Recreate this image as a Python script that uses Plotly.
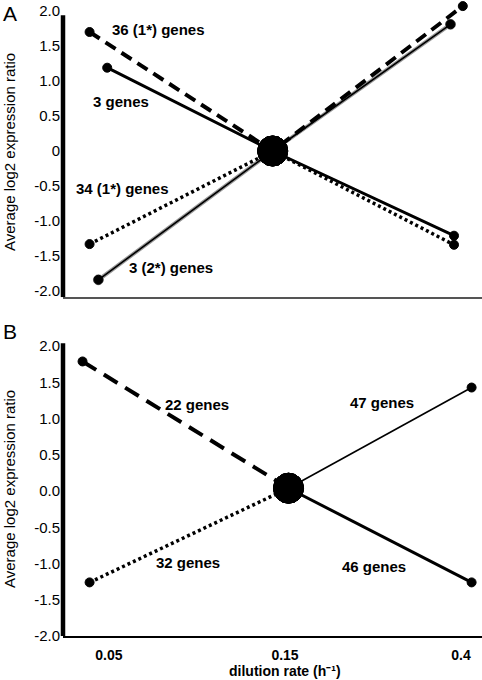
import plotly.graph_objects as go

# ---------------- data ----------------
# x positions are on an ordinal dilution-rate scale (0 -> 0.05, 1 -> 0.15, 2 -> 0.4)
x_ticks = [0, 1, 2]
x_tick_labels = ["0.05", "0.15", "0.4"]

# Panel A
a_dash_x = [-0.11, 0.93, 2.01]
a_dash_y = [1.70, 0.0, 2.07]
a_solid_x = [-0.01, 0.93, 1.96]
a_solid_y = [1.19, 0.0, -1.21]
a_dot_x = [-0.11, 0.93, 1.96]
a_dot_y = [-1.33, 0.0, -1.34]
a_gray_x = [-0.06, 0.93, 1.94]
a_gray_y = [-1.84, 0.0, 1.81]

# Panel B
b_dash_x = [-0.15, 1.02]
b_dash_y = [1.79, 0.04]
b_dot_x = [-0.11, 1.02]
b_dot_y = [-1.26, 0.04]
b_thin_x = [1.02, 2.06]
b_thin_y = [0.04, 1.43]
b_thick_x = [1.02, 2.06]
b_thick_y = [0.04, -1.26]

a_labels = ["36 (1*) genes", "3 genes", "34 (1*) genes", "3 (2*) genes"]
b_labels = ["22 genes", "47 genes", "32 genes", "46 genes"]

y_tickvals = [-2, -1.5, -1, -0.5, 0, 0.5, 1, 1.5, 2]
a_ticktext = ["-2.0", "-1.5", "-1.0", "-0.5", "0", "0.5", "1.0", "1.5", "2.0"]
b_ticktext = ["-2.0", "-1.5", "-1.0", "-0.5", "0.0", "0.5", "1.0", "1.5", "2.0"]

# ---------------- figure ----------------
W, H = 482, 680
FONT = "Arial, Liberation Sans, sans-serif"
fig = go.Figure()


def sizes(xs, cx):
    return [30 if abs(v - cx) < 0.05 else 9 for v in xs]


def add(xs, ys, width, dash, xa, ya, color="#000000", cx=0.93, msize=None):
    fig.add_trace(go.Scatter(
        x=xs, y=ys, mode="lines+markers", xaxis=xa, yaxis=ya,
        line=dict(color=color, width=width, dash=dash),
        marker=dict(color=color, opacity=1,
                    size=msize if msize is not None else sizes(xs, cx),
                    line=dict(width=1, color=color)),
        cliponaxis=False, showlegend=False, hoverinfo="skip"))


# Panel A traces
add(a_gray_x, a_gray_y, 4, "solid", "x", "y", color="#9a9a9a", msize=[10, 30, 10])
add(a_gray_x, a_gray_y, 1.6, "solid", "x", "y")
add(a_dot_x, a_dot_y, 3.5, "3px,3px", "x", "y")
add(a_solid_x, a_solid_y, 3, "solid", "x", "y")
add(a_dash_x, a_dash_y, 4, "12px,7px", "x", "y")

# Panel B traces
add(b_dash_x, b_dash_y, 4, "16px,9px", "x2", "y2", cx=1.02)
add(b_dot_x, b_dot_y, 3.5, "3px,3px", "x2", "y2", cx=1.02)
add(b_thin_x, b_thin_y, 1.6, "solid", "x2", "y2", cx=1.02)
add(b_thick_x, b_thick_y, 3, "solid", "x2", "y2", cx=1.02)

x_range = [-0.261, 2.119]
x_dom = [63 / W, 1]

common_y = dict(showgrid=False, zeroline=False, showline=False, ticks="",
                tickfont=dict(family=FONT, size=15, color="black"),
                tickvals=y_tickvals, ticklabelstandoff=2, automargin=False)

fig.update_layout(
    width=W, height=H,
    margin=dict(l=0, r=0, t=0, b=0, autoexpand=False),
    paper_bgcolor="white", plot_bgcolor="white",
    font=dict(family=FONT, color="black"),
    xaxis=dict(domain=x_dom, range=x_range, anchor="y", showgrid=False,
               zeroline=False, showline=True, linewidth=2, linecolor="#555",
               showticklabels=False, ticks="", automargin=False),
    yaxis=dict(domain=[1 - 297.3 / H, 1 - 2.6 / H], range=[-2.09, 2.12],
               anchor="x", ticktext=a_ticktext, **common_y),
    xaxis2=dict(domain=x_dom, range=x_range, anchor="y2", showgrid=False,
                zeroline=False, showline=True, linewidth=2, linecolor="black",
                ticks="", tickvals=x_ticks,
                ticktext=["<b>%s</b>" % t for t in x_tick_labels],
                tickfont=dict(family=FONT, size=14, color="black"),
                ticklabelstandoff=5, automargin=False),
    yaxis2=dict(domain=[1 - 636 / H, 1 - 339 / H], range=[-2.0, 2.1],
                anchor="x2", ticktext=b_ticktext, **common_y),
)

# y-axis spines (thick)
fig.add_shape(type="line", xref="x domain", yref="y", x0=0, x1=0, y0=-2.09, y1=1.94,
              line=dict(color="black", width=4.5))
fig.add_shape(type="line", xref="x2 domain", yref="y2", x0=0, x1=0, y0=-2.0, y1=2.04,
              line=dict(color="black", width=4.5))

annots = []
a_pos = [(158, 30), (121, 101), (123, 188), (171, 268)]
b_pos = [(197, 404), (382, 402), (188, 562), (374, 566)]
for t, (px, py) in zip(a_labels + b_labels, a_pos + b_pos):
    annots.append(dict(text="<b>%s</b>" % t, x=px / W, y=1 - py / H, xref="paper", yref="paper",
                       showarrow=False, font=dict(family=FONT, size=15, color="black"),
                       xanchor="center", yanchor="middle"))
# panel letters
for t, py in [("A", 13), ("B", 331)]:
    annots.append(dict(text=t, x=10 / W, y=1 - py / H, xref="paper", yref="paper",
                       showarrow=False, font=dict(family=FONT, size=21, color="black"),
                       xanchor="center", yanchor="middle"))
# y titles
for py in [152, 489]:
    annots.append(dict(text="Average log2 expression ratio", x=9 / W, y=1 - py / H,
                       xref="paper", yref="paper", showarrow=False, textangle=-90,
                       font=dict(family=FONT, size=15, color="black"),
                       xanchor="center", yanchor="middle"))
# x title
annots.append(dict(text="<b>dilution rate (h\u207b\u00b9)</b>", x=285 / W, y=1 - 671 / H,
                   xref="paper", yref="paper", showarrow=False,
                   font=dict(family=FONT, size=14, color="black"),
                   xanchor="center", yanchor="middle", borderpad=0))
fig.update_layout(annotations=annots)

fig.write_html(
    "out.html",
    config={"displayModeBar": False},
    post_script="document.body.style.margin='0';document.body.style.padding='0';",
)
